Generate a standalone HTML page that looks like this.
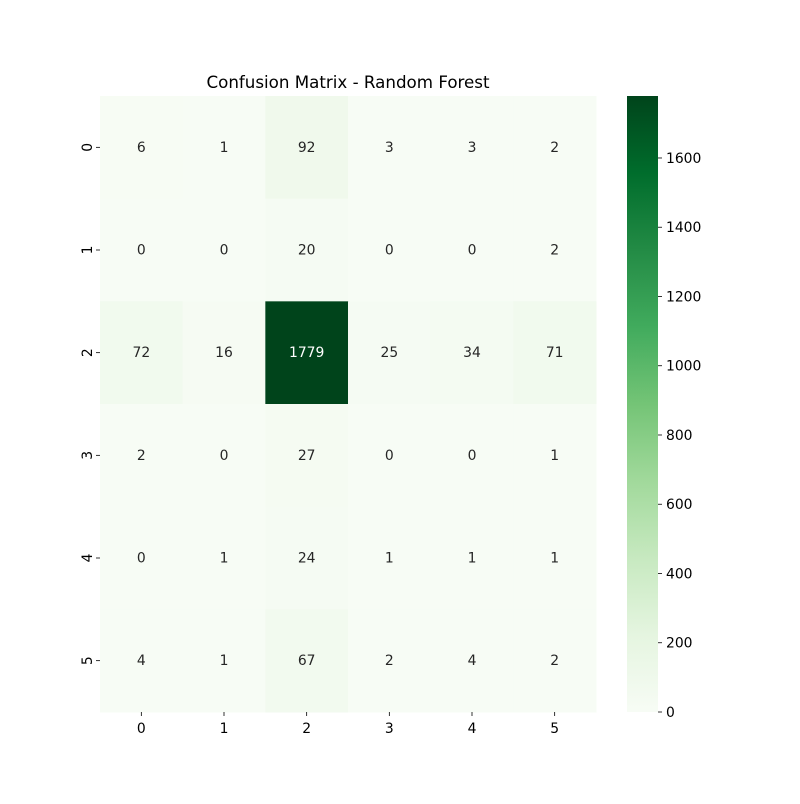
<!DOCTYPE html>
<html><head><meta charset="utf-8"><style>
body{margin:0;background:#fff;font-family:"DejaVu Sans","Liberation Sans",sans-serif;}
svg text{font-family:"DejaVu Sans","Liberation Sans",sans-serif;}
</style></head><body>
<svg id="c" width="800" height="800" xmlns="http://www.w3.org/2000/svg">
<defs><linearGradient id="g" x1="0" y1="1" x2="0" y2="0">
<stop offset="0" stop-color="#f7fcf5"/><stop offset="0.125" stop-color="#e5f5e0"/><stop offset="0.25" stop-color="#c7e9c0"/><stop offset="0.375" stop-color="#a1d99b"/><stop offset="0.5" stop-color="#74c476"/><stop offset="0.625" stop-color="#41ab5d"/><stop offset="0.75" stop-color="#238b45"/><stop offset="0.875" stop-color="#006d2c"/><stop offset="1" stop-color="#00441b"/>
</linearGradient></defs>
<text x="348" y="88" font-size="16.7" text-anchor="middle" fill="#000">Confusion Matrix - Random Forest</text>
<rect x="627" y="96" width="31" height="616" fill="url(#g)"/>
</svg>
<script>
const rowLabels=["0","1","2","3","4","5"];
const colLabels=["0","1","2","3","4","5"];
const matrix=[
[6,1,92,3,3,2],
[0,0,20,0,0,2],
[72,16,1779,25,34,71],
[2,0,27,0,0,1],
[0,1,24,1,1,1],
[4,1,67,2,4,2]];
const cbTicks=[0,200,400,600,800,1000,1200,1400,1600];
const stops=["#f7fcf5","#e5f5e0","#c7e9c0","#a1d99b","#74c476","#41ab5d","#238b45","#006d2c","#00441b"];
const svg=document.getElementById('c');
const NS="http://www.w3.org/2000/svg";
const X0=100,Y0=96,W=496,H=616;
let vmax=0,vmin=Infinity;matrix.forEach(r=>r.forEach(v=>{vmax=Math.max(vmax,v);vmin=Math.min(vmin,v);}));
const cw=W/colLabels.length,ch=H/rowLabels.length;
function hex(h){return [1,3,5].map(i=>parseInt(h.substr(i,2),16));}
function color(v){let t=(v-vmin)/(vmax-vmin||1);t=Math.max(0,Math.min(1,t))*8;const i=Math.min(7,Math.floor(t)),f=t-i;const a=hex(stops[i]),b=hex(stops[i+1]);const c=a.map((x,k)=>Math.round(x+(b[k]-x)*f));return {s:`rgb(${c})`,l:(0.299*c[0]+0.587*c[1]+0.114*c[2])};}
function mk(tag,attrs){const e=document.createElementNS(NS,tag);for(const k in attrs)e.setAttribute(k,attrs[k]);svg.appendChild(e);return e;}
matrix.forEach((row,i)=>row.forEach((v,j)=>{
 const c=color(v);
 const r=mk('rect',{x:X0+j*cw,y:Y0+i*ch,width:cw+0.5,height:ch+0.5,fill:c.s});
 
 
 const t=mk('text',{x:X0+(j+0.5)*cw,y:Y0+(i+0.5)*ch+4.5,'font-size':13.9,'text-anchor':'middle',fill:c.l<128?'#fff':'#262626'});
 t.textContent=v;
 
 
}));
colLabels.forEach((l,j)=>{const x=X0+(j+0.5)*cw;
 const tk=mk('line',{x1:x,x2:x,y1:Y0+H,y2:Y0+H+4,stroke:'#000','stroke-width':0.8});
 
 
 const t=mk('text',{x:x,y:Y0+H+21,'font-size':13.9,'text-anchor':'middle'});t.textContent=l;
 
 });
rowLabels.forEach((l,i)=>{const y=Y0+(i+0.5)*ch;
 const tk=mk('line',{x1:X0-4,x2:X0,y1:y,y2:y,stroke:'#000','stroke-width':0.8});
 
 
 const t=mk('text',{x:0,y:0,'font-size':13.9,'text-anchor':'middle',transform:`translate(${X0-8},${y}) rotate(-90)`});t.textContent=l;
 
 });
cbTicks.forEach(v=>{const y=712-(v-vmin)/(vmax-vmin)*616;
 const tk=mk('line',{x1:658,x2:662,y1:y,y2:y,stroke:'#000','stroke-width':0.8});
 
 
 const t=mk('text',{x:666,y:y+5,'font-size':13.9});t.textContent=v;
 
 });
</script>
</body></html>
